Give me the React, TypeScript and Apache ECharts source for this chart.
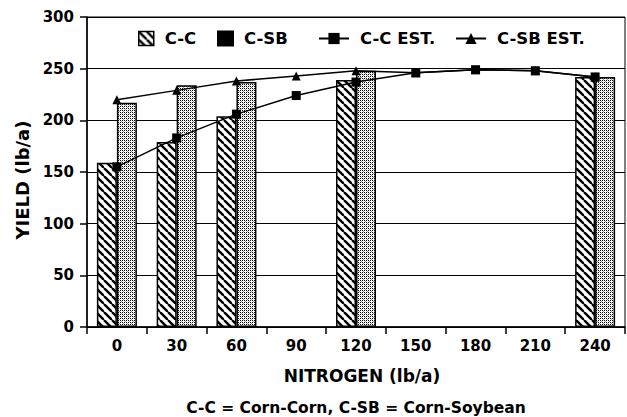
import React, { useEffect, useRef } from "react";
import * as echarts from "echarts";

const categories = ["0", "30", "60", "90", "120", "150", "180", "210", "240"];
const ccBars: (number | null)[] = [159, 179, 204, null, 239, null, null, null, 242];
const csbBars: (number | null)[] = [217, 234, 237, null, 248, null, null, null, 242];
const ccEst = [155, 183, 206, 224, 237, 246, 249, 248, 242];
const csbEst = [220, 229, 238, 243, 248, 246, 249, 248, 242];
const yTicks = [0, 50, 100, 150, 200, 250, 300];

function hatchCanvas() {
  const c = document.createElement("canvas");
  c.width = 8;
  c.height = 8;
  const g = c.getContext("2d")!;
  g.fillStyle = "#fff";
  g.fillRect(0, 0, 8, 8);
  g.strokeStyle = "#000";
  g.lineWidth = 2.4;
  for (const o of [-8, 0, 8]) {
    g.beginPath();
    g.moveTo(o, 0);
    g.lineTo(o + 8, 8);
    g.stroke();
  }
  return c;
}

function dotCanvas() {
  const c = document.createElement("canvas");
  c.width = 4;
  c.height = 4;
  const g = c.getContext("2d")!;
  g.fillStyle = "#fff";
  g.fillRect(0, 0, 4, 4);
  g.fillStyle = "#000";
  g.fillRect(0, 0, 1, 1);
  g.fillRect(2, 2, 1, 1);
  g.fillRect(2, 0, 1, 1);
  g.fillRect(0, 2, 1, 1);
  g.fillStyle = "rgba(0,0,0,0.4)";
  g.fillRect(1, 1, 1, 1);
  g.fillRect(3, 3, 1, 1);
  return c;
}

export default function App() {
  const ref = useRef<HTMLDivElement>(null);
  useEffect(() => {
    if (!ref.current) return;
    const chart = echarts.init(ref.current, undefined, { renderer: "svg" });
    const hatch = { image: hatchCanvas(), repeat: "repeat" } as any;
    const dots = { image: dotCanvas(), repeat: "repeat" } as any;
    const font = "DejaVu Sans, Verdana, sans-serif";
    const legendText = {
      fontFamily: font,
      fontWeight: "bold",
      fontSize: 16.5,
      color: "#000",
      padding: [0, 0, 0, 6],
    };
    chart.setOption({
      animation: false,
      backgroundColor: "#fff",
      grid: {
        left: 87,
        right: 2,
        top: 17,
        bottom: 90,
        show: true,
        borderColor: "#000",
        borderWidth: 1,
        backgroundColor: "transparent",
      },
      legend: [
        {
          data: [{ name: "C-C", icon: "rect", itemStyle: { color: hatch, borderColor: "#000", borderWidth: 1.5 } }],
          left: 133, top: 25, itemWidth: 15, itemHeight: 14,
          textStyle: legendText,
        },
        {
          data: [{ name: "C-SB", icon: "rect", itemStyle: { color: "#000", borderColor: "#000" } }],
          left: 212, top: 25, itemWidth: 15, itemHeight: 14,
          textStyle: legendText,
        },
        {
          data: ["C-C EST."],
          left: 313, top: 25, itemWidth: 30, itemHeight: 14,
          textStyle: legendText,
        },
        {
          data: ["C-SB EST."],
          left: 450, top: 25, itemWidth: 30, itemHeight: 14,
          textStyle: legendText,
        },
      ],
      xAxis: {
        type: "category",
        data: categories,
        boundaryGap: true,
        name: "NITROGEN (lb/a)",
        nameLocation: "middle",
        nameGap: 40,
        nameTextStyle: { fontFamily: font, fontWeight: "bold", fontSize: 17, color: "#000", padding: [0, 0, 0, 12] },
        axisLine: { lineStyle: { color: "#000", width: 1.5 } },
        axisTick: { show: true, alignWithLabel: false, length: 7, lineStyle: { color: "#000", width: 1.5 } },
        axisLabel: { fontFamily: font, fontWeight: "bold", fontSize: 15, color: "#000", margin: 11 },
        splitLine: { show: false },
      },
      yAxis: {
        type: "value",
        min: 0,
        max: 300,
        interval: 50,
        name: "YIELD (lb/a)",
        nameLocation: "middle",
        nameGap: 55,
        nameTextStyle: {
          fontFamily: font, fontWeight: "bold", fontSize: 18, color: "#000",
          padding: [0, 16, 0, 0],
        },
        axisLine: { show: true, lineStyle: { color: "#000", width: 1.5 } },
        axisTick: { show: true, length: 7, lineStyle: { color: "#000", width: 1.5 } },
        axisLabel: {
          fontFamily: font, fontWeight: "bold", fontSize: 15, color: "#000", margin: 13,
          formatter: (v: number) => (yTicks.includes(v) ? String(v) : ""),
        },
        splitLine: { show: true, lineStyle: { color: "#000", width: 1 } },
      },
      series: [
        {
          name: "C-C",
          type: "bar",
          data: ccBars,
          barWidth: 20,
          barGap: "0%",
          itemStyle: { color: hatch, borderColor: "#000", borderWidth: 1.5 },
          z: 2,
        },
        {
          name: "C-SB",
          type: "bar",
          data: csbBars,
          barWidth: 20,
          barGap: "0%",
          itemStyle: { color: dots, borderColor: "#000", borderWidth: 1.5 },
          z: 2,
        },
        {
          name: "C-C EST.",
          type: "line",
          data: ccEst,
          symbol: "rect",
          symbolSize: 9,
          lineStyle: { color: "#000", width: 1.5 },
          itemStyle: { color: "#000" },
          z: 4,
        },
        {
          name: "C-SB EST.",
          type: "line",
          data: csbEst,
          symbol: "triangle",
          symbolSize: 9,
          lineStyle: { color: "#000", width: 1.5 },
          itemStyle: { color: "#000" },
          z: 3,
        },
      ],
      graphic: [
        {
          type: "text",
          x: 356,
          y: 408,
          style: {
            text: "C-C = Corn-Corn, C-SB = Corn-Soybean",
            fontFamily: font,
            fontWeight: "bold",
            fontSize: 15.5,
            fill: "#000",
            align: "center",
            verticalAlign: "middle",
          },
        },
      ],
    });
    return () => chart.dispose();
  }, []);
  return (
    <div
      ref={ref}
      style={{ position: "absolute", left: 0, top: 0, width: 627, height: 417 }}
    />
  );
}
